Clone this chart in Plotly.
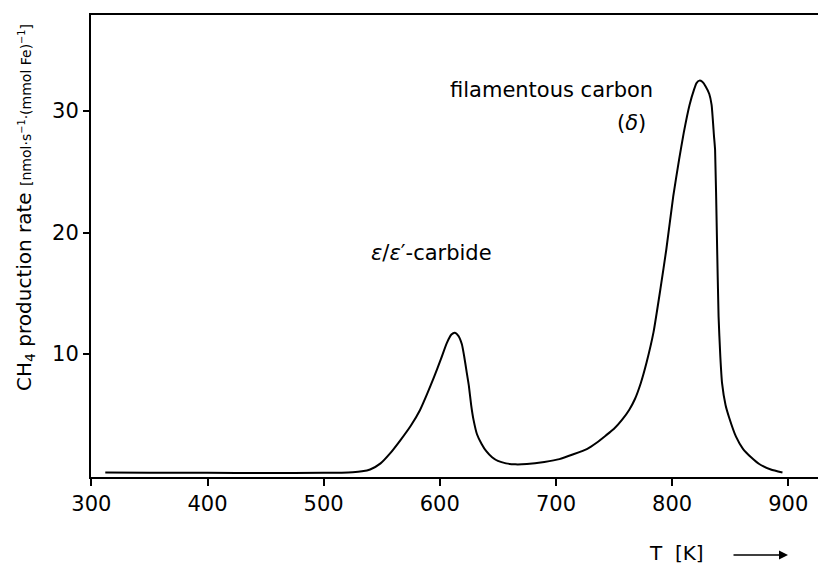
import plotly.graph_objects as go

# Temperature [K] and CH4 production rate values
T = [312, 350, 400, 450, 500, 525, 533, 540, 549, 557, 566, 575, 583, 589,
     595, 601, 606, 610, 613, 616, 619, 621, 623, 625, 627, 629, 632, 636, 640,
     645, 650, 657, 665, 675, 690, 703, 715, 727, 735, 743, 750, 757, 763, 768,
     773, 778, 784, 790, 795, 801, 806, 810, 815, 819, 821, 823.5, 826, 829, 832, 834,
     836, 837, 838.5, 840, 841.5, 843, 846, 849, 855, 861, 868, 875, 885, 895]
rate = [0.25, 0.24, 0.22, 0.2, 0.22, 0.28, 0.35, 0.5, 1.0, 1.8, 2.9, 4.1, 5.4, 6.7,
        8.1, 9.6, 10.9, 11.6, 11.75, 11.5, 10.8, 9.8, 8.6, 7.4, 5.8, 4.6, 3.4, 2.6, 2.0,
        1.5, 1.2, 1.0, 0.92, 0.95, 1.12, 1.35, 1.75, 2.2, 2.7, 3.3, 3.85, 4.6, 5.4, 6.3,
        7.6, 9.3, 11.8, 15.4, 18.6, 23.0, 26.0, 28.2, 30.5, 31.8, 32.3, 32.5, 32.4, 32.0, 31.4, 30.5,
        28.0, 26.8, 20.0, 13.1, 9.8, 7.6, 5.8, 4.8, 3.2, 2.2, 1.5, 0.95, 0.5, 0.25]

x_ticks = [300, 400, 500, 600, 700, 800, 900]
y_ticks = [10, 20, 30]

FONT = "DejaVu Sans"

fig = go.Figure()
fig.add_trace(go.Scatter(x=T, y=rate, mode="lines",
                         line=dict(color="black", width=2, shape="spline", smoothing=0.5),
                         showlegend=False, hoverinfo="skip"))

L, R, TOP, B = 91, 0, 15, 91
W, H = 818, 568
pw = W - L - R
ph = H - TOP - B

def px(xp):
    return (xp - L) / pw

def py(yp):
    return (H - B - yp) / ph

fig.update_layout(
    width=W, height=H, autosize=False,
    margin=dict(l=L, r=R, t=TOP, b=B, pad=0),
    paper_bgcolor="white", plot_bgcolor="white",
    font=dict(family=FONT, color="black"),
    xaxis=dict(range=[299.7, 925.6], tickvals=x_ticks, ticktext=[str(v) for v in x_ticks],
               showline=True, linecolor="black", linewidth=2, mirror=True,
               ticks="outside", ticklen=7, tickwidth=1.5, tickcolor="black",
               showgrid=False, zeroline=False, tickfont=dict(size=21, family=FONT)),
    yaxis=dict(range=[-0.12, 37.9], tickvals=y_ticks, ticktext=[str(v) for v in y_ticks],
               showline=True, linecolor="black", linewidth=2, mirror=False,
               ticks="outside", ticklen=6, tickwidth=1.5, tickcolor="black",
               showgrid=False, zeroline=False, tickfont=dict(size=21, family=FONT)),
)

def label(text, x, y, size, **kw):
    d = dict(text=text, x=px(x), y=py(y), xref="paper", yref="paper",
             xanchor="center", yanchor="middle", showarrow=False,
             font=dict(size=size, family=FONT))
    d.update(kw)
    return d

ann = [
    label("filamentous carbon", 551, 90, 21),
    label("(<i>δ</i>)", 631, 123, 21),
    label("<i>ε</i>/<i>ε</i>′-carbide", 431, 253, 21),
    label("CH<sub>4</sub> production rate "
          "<span style='font-size:14px'>[nmol·s<sup>−1</sup>·(mmol Fe)<sup>−1</sup>]</span>",
          25, 208, 20, textangle=-90),
    label("T  [K]", 676, 553, 20),
    dict(text="", x=px(788), y=py(555), xref="paper", yref="paper",
         showarrow=True, ax=-56, ay=0, arrowhead=2, arrowsize=1.2,
         arrowwidth=1.5, arrowcolor="black"),
]
fig.update_layout(annotations=ann)

fig.write_html("out.html")
